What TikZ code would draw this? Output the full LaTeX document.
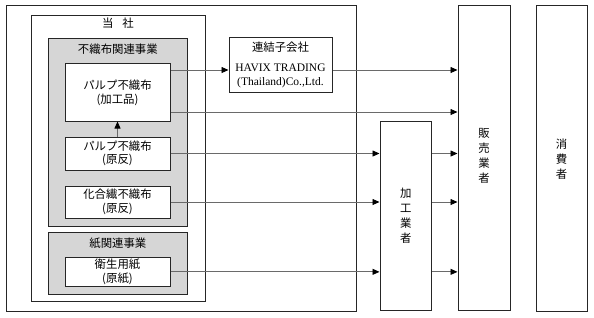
\documentclass[tikz,border=0pt]{standalone}
\usepackage{fontspec}
\setmainfont{Liberation Serif}
\newfontfamily\jp{Noto Sans CJK JP}[Scale=0.95]
\usetikzlibrary{arrows.meta}
\definecolor{lg}{HTML}{D6D6D6}
\definecolor{ln}{HTML}{6A6A6A}
\begin{document}
\begin{tikzpicture}[x=1pt,y=-1pt,
  box/.style={draw=black!85, line width=1pt, fill=white, inner sep=0pt},
  gbox/.style={box, fill=lg},
  txt/.style={font=\jp\fontsize{12}{13.5}\selectfont, align=center, inner sep=0pt},
  vtxt/.style={font=\jp\fontsize{12}{15}\selectfont, align=center, inner sep=0pt},
  ltxt/.style={font=\fontsize{11.5}{14}\selectfont, align=center, inner sep=0pt},
  arr/.style={draw=ln, line width=0.8pt, -{Triangle[length=7pt,width=6pt,color=black]}}]
\useasboundingbox (0,0) rectangle (594,317);
% main boxes
\node[box, minimum width=350pt, minimum height=306pt] (outer) at (181,158) {};
\node[box, minimum width=174pt, minimum height=286.5pt] (tosha) at (118,158.25) {};
\node[txt] (toshaT) at (118,23) {当\hspace{9pt}社};
\node[gbox, minimum width=138.3pt, minimum height=188pt] (g1) at (117.85,132) {};
\node[txt] (g1T) at (117.85,49) {不織布関連事業};
\node[box, minimum width=105pt, minimum height=58pt] (p1) at (117.5,92) {};
\node[txt] (p1T) at (117.5,93) {パルプ不織布\\(加工品)};
\node[box, minimum width=105pt, minimum height=33pt] (p2) at (117.5,153.5) {};
\node[txt] (p2T) at (117.5,153.5) {パルプ不織布\\(原反)};
\node[box, minimum width=105pt, minimum height=32pt] (p3) at (117.5,202) {};
\node[txt] (p3T) at (117.5,202) {化合繊不織布\\(原反)};
\node[gbox, minimum width=138.3pt, minimum height=61.3pt] (g2) at (117.85,263.35) {};
\node[txt] (g2T) at (117.85,243) {紙関連事業};
\node[box, minimum width=105pt, minimum height=29.7pt] (p4) at (117.5,271.85) {};
\node[txt] (p4T) at (117.5,271.85) {衛生用紙\\(原紙)};
% subsidiary
\node[box, minimum width=103pt, minimum height=54.3pt] (sub) at (280.5,64.85) {};
\node[txt] (subT) at (280.5,47) {連結子会社};
\node[ltxt] (subL) at (280.5,75.5) {HAVIX TRADING\\(Thailand)Co.,Ltd.};
% right columns
\node[box, minimum width=51.7pt, minimum height=188.3pt] (kako) at (405.85,215.85) {};
\node[vtxt] (kakoT) at (405.85,215.85) {加\\工\\業\\者};
\node[box, minimum width=52pt, minimum height=305.7pt] (han) at (484,157.85) {};
\node[vtxt] (hanT) at (484,156) {販\\売\\業\\者};
\node[box, minimum width=51pt, minimum height=306pt] (sho) at (561.5,158) {};
\node[vtxt] (shoT) at (561.5,159) {消\\費\\者};
% levels
\coordinate (r1) at (0,70);
\coordinate (r2) at (0,112);
% connectors
\draw[arr] (p2.north) -- (p1.south);
\draw[arr] (p1.east |- r1) -- (sub.west |- r1);
\draw[arr] (sub.east |- r1) -- (han.west |- r1);
\draw[arr] (p1.east |- r2) -- (han.west |- r2);
\draw[arr] (p2.east) -- (kako.west |- p2.east);
\draw[arr] (kako.east |- p2.east) -- (han.west |- p2.east);
\draw[arr] (p3.east) -- (kako.west |- p3.east);
\draw[arr] (kako.east |- p3.east) -- (han.west |- p3.east);
\draw[arr] (p4.east) -- (kako.west |- p4.east);
\draw[arr] (kako.east |- p4.east) -- (han.west |- p4.east);
\end{tikzpicture}
\end{document}
